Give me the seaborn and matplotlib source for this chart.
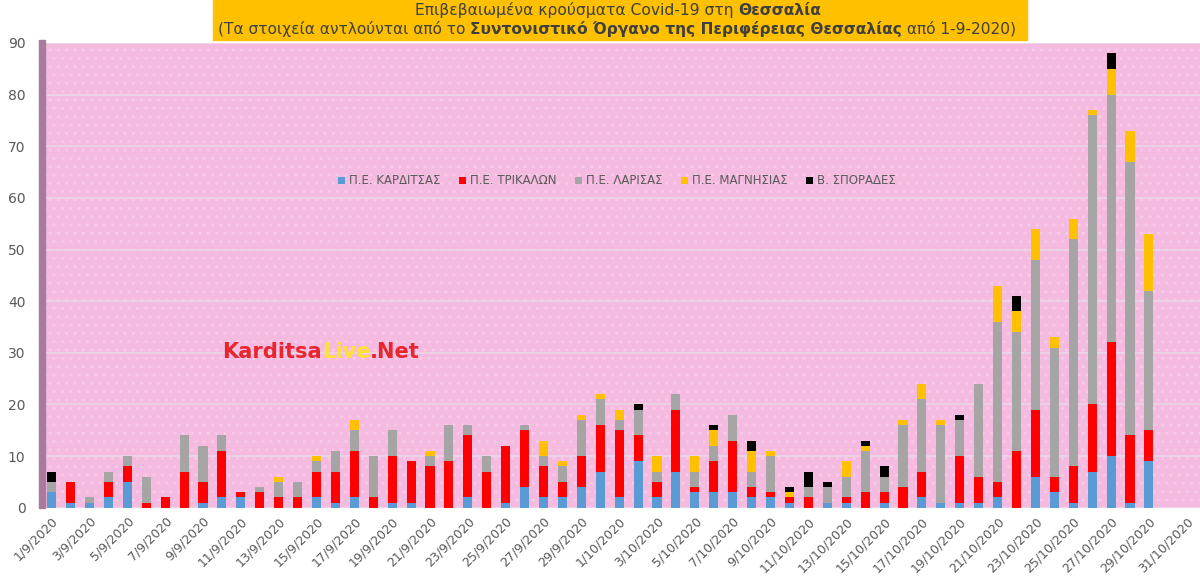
import numpy as np
import pandas as pd
import seaborn as sns
from matplotlib import pyplot as plt
from matplotlib.patches import Rectangle, Patch

# Categories: one bar per day, 1/9/2020 .. 31/10/2020
dates = ['%d/9/2020' % d for d in range(1, 31)] + ['%d/10/2020' % d for d in range(1, 32)]

# Daily cases per regional unit
karditsa = [3, 1, 1, 2, 5, 0, 0, 0, 1, 2, 2, 0, 0, 0, 2, 1, 2, 0, 1, 1, 0, 0, 2, 0, 1, 4, 2, 2, 4, 7,
            2, 9, 2, 7, 3, 3, 3, 2, 2, 1, 0, 1, 1, 0, 1, 0, 2, 1, 1, 1, 2, 0, 6, 3, 1, 7, 10, 1, 9, 0, 0]
trikala = [0, 4, 0, 3, 3, 1, 2, 7, 4, 9, 1, 3, 2, 2, 5, 6, 9, 2, 9, 8, 8, 9, 12, 7, 11, 11, 6, 3, 6, 9,
           13, 5, 3, 12, 1, 6, 10, 2, 1, 1, 2, 0, 1, 3, 2, 4, 5, 0, 9, 5, 3, 11, 13, 3, 7, 13, 22, 13, 6, 0, 0]
larisa = [2, 0, 1, 2, 2, 5, 0, 7, 7, 3, 0, 1, 3, 3, 2, 4, 4, 8, 5, 0, 2, 7, 2, 3, 0, 1, 2, 3, 7, 5,
          2, 5, 2, 3, 3, 3, 5, 3, 7, 0, 2, 3, 4, 8, 3, 12, 14, 15, 7, 18, 31, 23, 29, 25, 44, 56, 48, 53, 27, 0, 0]
magnisia = [0, 0, 0, 0, 0, 0, 0, 0, 0, 0, 0, 0, 1, 0, 1, 0, 2, 0, 0, 0, 1, 0, 0, 0, 0, 0, 3, 1, 1, 1,
            2, 0, 3, 0, 3, 3, 0, 4, 1, 1, 0, 0, 3, 1, 0, 1, 3, 1, 0, 0, 7, 4, 6, 2, 4, 1, 5, 6, 11, 0, 0]
sporades = [2, 0, 0, 0, 0, 0, 0, 0, 0, 0, 0, 0, 0, 0, 0, 0, 0, 0, 0, 0, 0, 0, 0, 0, 0, 0, 0, 0, 0, 0,
            0, 1, 0, 0, 0, 1, 0, 2, 0, 1, 3, 1, 0, 1, 2, 0, 0, 0, 1, 0, 0, 3, 0, 0, 0, 0, 3, 0, 0, 0, 0]

names = ['Π.Ε. ΚΑΡΔΙΤΣΑΣ', 'Π.Ε. ΤΡΙΚΑΛΩΝ', 'Π.Ε. ΛΑΡΙΣΑΣ', 'Π.Ε. ΜΑΓΝΗΣΙΑΣ', 'Β. ΣΠΟΡΑΔΕΣ']
colors = ['#5B9BD5', '#FF0000', '#A5A5A5', '#FFC000', '#000000']

df = pd.DataFrame({'date': dates, names[0]: karditsa, names[1]: trikala, names[2]: larisa,
                   names[3]: magnisia, names[4]: sporades})
cum = df[names].cumsum(axis=1)
cum['date'] = dates

sns.set_style('white')
plt.rcParams['font.family'] = ['DejaVu Sans']

fig = plt.figure(figsize=(12, 5.82), dpi=100)
W, H = 1200, 582
ax = fig.add_axes([45 / W, 1 - 507.7 / H, 1155 / W, (507.7 - 43) / H])
ax.set_facecolor('#F5BAE0')
ax.patch.set_hatch('..')
ax.patch.set_edgecolor('#F8CAE8')
ax.patch.set_linewidth(0)

# stacked bars: draw cumulative totals from the top layer down
for i in range(len(names) - 1, -1, -1):
    sns.barplot(data=cum, x='date', y=names[i], order=dates, color=colors[i], saturation=1,
                width=0.48, errorbar=None, linewidth=0, ax=ax)

ax.set_xlim(-0.35, 60.7)
ax.set_ylim(0, 90)
ax.set_yticks(range(0, 91, 10))
ax.yaxis.grid(True, color='#EBD5E5', lw=1.3)
ax.set_axisbelow(True)
for s in ax.spines.values():
    s.set_visible(False)
ax.set_xlabel('')
ax.set_ylabel('')
ax.set_xticks(range(len(dates)))
ax.set_xticklabels([d if i % 2 == 0 else '' for i, d in enumerate(dates)], rotation=45,
                   ha='right', rotation_mode='anchor', fontsize=9, color='#595959')
ax.tick_params(axis='x', length=0, pad=5)
ax.tick_params(axis='y', length=0, pad=14, labelsize=10, labelcolor='#595959')

# left wall of the 3D plot area
fig.patches.append(Rectangle((39 / W, 1 - 507.7 / H), 6 / W, (507.7 - 40) / H,
                             transform=fig.transFigure, color='#A87A9C', zorder=0))

# legend
handles = [Patch(facecolor=c, edgecolor='none', label=n) for n, c in zip(names, colors)]
ax.legend(handles=handles, ncol=5, frameon=False, loc='center', bbox_to_anchor=(617 / W, 1 - 181 / H),
          bbox_transform=fig.transFigure, fontsize=8.5, labelcolor='#595959', handlelength=0.6,
          handleheight=0.6, handletextpad=0.3, columnspacing=1.6)

# title box
fig.patches.append(Rectangle((213 / W, 1 - 40 / H), (1027 - 213) / W, 40 / H,
                             transform=fig.transFigure, color='#FFC000', zorder=0))


def text_line(pieces, x0, x1, ybase, size):
    """Write mixed-weight pieces on one baseline, scaled to span x0..x1 pixels."""
    r = fig.canvas.get_renderer()
    arts = []
    for txt, bold, col in pieces:
        t = fig.text(0, 1 - ybase / H, txt, fontsize=size, color=col, ha='left', va='baseline',
                     fontweight='bold' if bold else 'normal', zorder=5)
        arts.append(t)
    widths = [t.get_window_extent(r).width for t in arts]
    k = (x1 - x0) / sum(widths)
    for t in arts:
        t.set_fontsize(size * k)
    widths = [t.get_window_extent(r).width for t in arts]
    x = x0
    for t, w in zip(arts, widths):
        t.set_x(x / W)
        x += w
    return arts


fig.canvas.draw()
tc = '#3F3F3F'
text_line([('Επιβεβαιωμένα κρούσματα Covid-19 στη ', False, tc), ('Θεσσαλία', True, tc)],
          415, 825, 15, 9.5)
text_line([('(Τα στοιχεία αντλούνται από το ', False, tc),
           ('Συντονιστικό Όργανο της Περιφέρειας Θεσσαλίας', True, tc),
           (' από 1-9-2020)', False, tc)], 218, 1022, 34, 9.5)

# watermark
text_line([('Karditsa', True, '#E8262F'), ('Live', True, '#FFE135'), ('.Net', True, '#E8262F')],
          222, 420, 358, 15)

fig.savefig('out.png', dpi=100)
